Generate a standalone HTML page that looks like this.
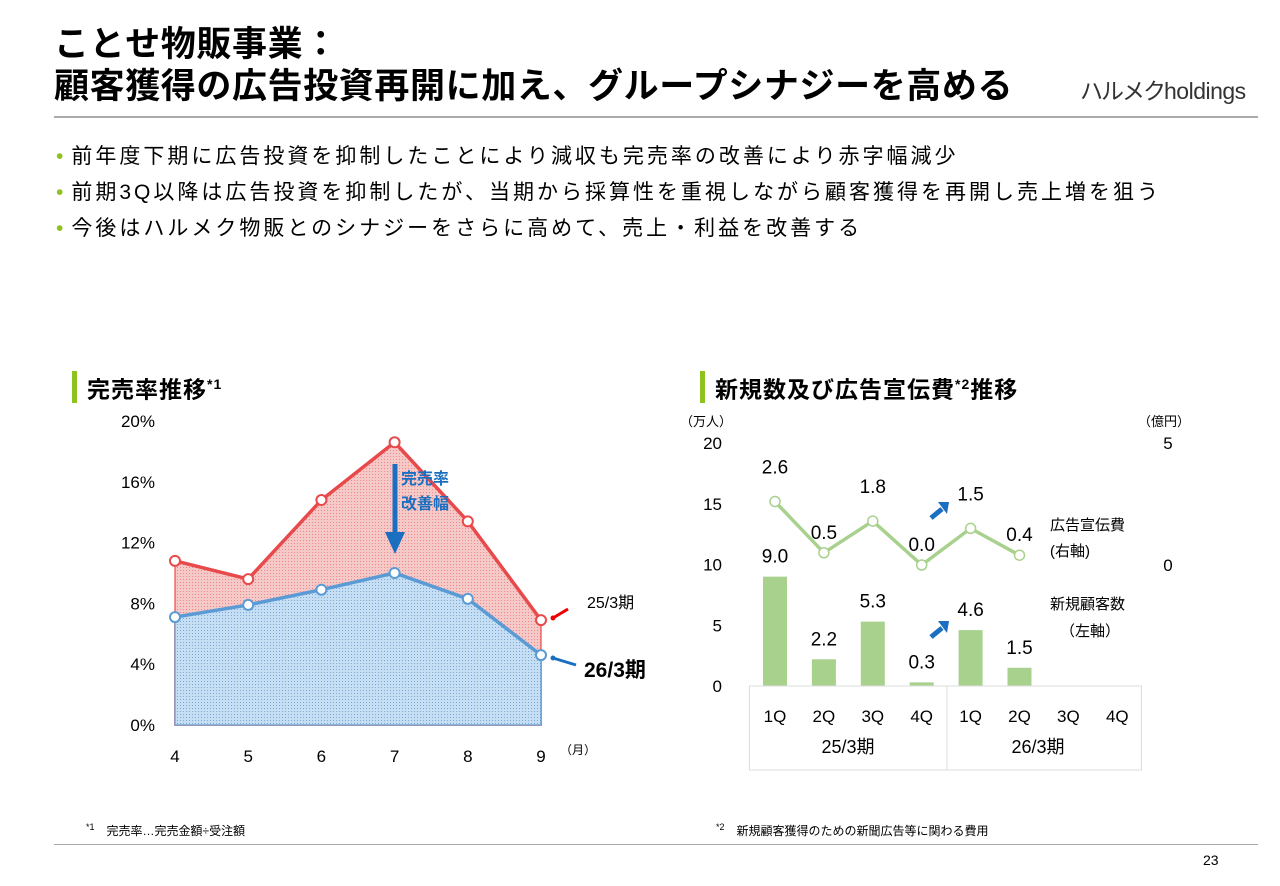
<!DOCTYPE html>
<html><head><meta charset="utf-8"><style>
body{margin:0;width:1280px;height:886px;background:#fff;font-family:"Liberation Sans","Noto Sans CJK JP",sans-serif;color:#000;position:relative;overflow:hidden}
.abs{position:absolute;white-space:nowrap}
h1{position:absolute;left:54px;top:24px;margin:0;font-size:35px;line-height:42px;font-weight:bold;letter-spacing:0.6px}
.bul{left:56px;font-size:21px;letter-spacing:3px}
.bul span{color:#8dc21f;margin-right:8px;letter-spacing:0}
.sec{font-size:23px;font-weight:bold;padding-left:10px;border-left:5px solid #8dc21f;line-height:26px;letter-spacing:1px}
</style></head><body>
<h1>ことせ物販事業：<br>顧客獲得の広告投資再開に加え、グループシナジーを高める</h1>
<div class="abs" style="left:1080px;top:72px;font-size:23px;color:#333;letter-spacing:-0.5px"><span style="letter-spacing:-2px">ハルメク</span>holdings</div>
<div class="abs" style="left:54px;top:116px;width:1204px;height:2px;background:#aaa"></div>
<div class="abs bul" style="top:140px"><span>•</span>前年度下期に広告投資を抑制したことにより減収も完売率の改善により赤字幅減少</div>
<div class="abs bul" style="top:176px"><span>•</span>前期3Q以降は広告投資を抑制したが、当期から採算性を重視しながら顧客獲得を再開し売上増を狙う</div>
<div class="abs bul" style="top:212px"><span>•</span>今後はハルメク物販とのシナジーをさらに高めて、売上・利益を改善する</div>
<div class="abs sec" style="left:72px;top:371px">完売率推移<sup style="font-size:14px">*1</sup></div>
<div class="abs sec" style="left:700px;top:371px">新規数及び広告宣伝費<sup style="font-size:14px">*2</sup>推移</div>
<svg id="c1" class="abs" style="left:0;top:0" width="1280" height="886">
<defs>
<pattern id="pr" width="3" height="3" patternUnits="userSpaceOnUse"><rect width="3" height="3" fill="#f6c9c9"/><rect width="1" height="1" fill="#e88"/></pattern>
<pattern id="pb" width="3" height="3" patternUnits="userSpaceOnUse"><rect width="3" height="3" fill="#c5def3"/><rect width="1" height="1" fill="#7aa9d6"/></pattern>
</defs>
</svg>
<div class="abs" style="left:86px;top:822px;font-size:12px"><sup style="font-size:9px">*1</sup>　完売率…完売金額÷受注額</div>
<div class="abs" style="left:716px;top:822px;font-size:12px"><sup style="font-size:9px">*2</sup>　新規顧客獲得のための新聞広告等に関わる費用</div>
<div class="abs" style="left:54px;top:844px;width:1204px;height:1px;background:#aaa"></div>
<div class="abs" style="left:1203px;top:852px;font-size:14px">23</div>
<script>
const months=['4','5','6','7','8','9'];
const rate25=[10.8,9.6,14.8,18.6,13.4,6.9];
const rate26=[7.1,7.9,8.9,10.0,8.3,4.6];
const rateTicks=[0,4,8,12,16,20];
const quarters=['1Q','2Q','3Q','4Q','1Q','2Q','3Q','4Q'];
const newCustomers=[9.0,2.2,5.3,0.3,4.6,1.5];
const adCost=[2.6,0.5,1.8,0.0,1.5,0.4];
const leftTicks=[0,5,10,15,20];
const rightTicks=[0,5];
const NS='http://www.w3.org/2000/svg';
const svg=document.getElementById('c1');
function mk(tag,attrs,text){const e=document.createElementNS(NS,tag);for(const k in attrs)e.setAttribute(k,attrs[k]);if(text!==undefined)e.textContent=text;svg.appendChild(e);return e;}
// left chart
const lx=i=>175+i*73.2, ly=v=>725-v*15.2;
rateTicks.forEach(t=>{const e=mk('text',{x:155,y:ly(t)+6,'text-anchor':'end','font-size':17},t+'%');

});
months.forEach((m,i)=>{const e=mk('text',{x:lx(i),y:762,'text-anchor':'middle','font-size':17},m);

});
mk('text',{x:560,y:754,'font-size':12},'（月）');
function area(vals,fill,stroke,name){
 let d='M'+lx(0)+','+ly(0);vals.forEach((v,i)=>d+=' L'+lx(i)+','+ly(v));d+=' L'+lx(vals.length-1)+','+ly(0)+'Z';
 const a=mk('path',{d:d,fill:fill,stroke:stroke,'stroke-width':2,'stroke-opacity':0.6});
 
 
 const l=mk('polyline',{points:vals.map((v,i)=>lx(i)+','+ly(v)).join(' '),fill:'none',stroke:stroke,'stroke-width':3.5});
 
 
 vals.forEach((v,i)=>{const c=mk('circle',{cx:lx(i),cy:ly(v),r:5,fill:'#fff',stroke:stroke,'stroke-width':2});
 
 });
}
area(rate25,'url(#pr)','#e8494b','rate-25-3');
area(rate26,'url(#pb)','#5b9bd5','rate-26-3');
mk('line',{x1:395,y1:464,x2:395,y2:535,stroke:'#1a6fc0','stroke-width':5});
mk('polygon',{points:'385,532 405,532 395,554',fill:'#1a6fc0'});
mk('text',{x:401,y:484,'font-size':16,'font-weight':'bold',fill:'#1a6fc0'},'完売率');
mk('text',{x:401,y:509,'font-size':16,'font-weight':'bold',fill:'#1a6fc0'},'改善幅');
mk('line',{x1:568,y1:609,x2:553,y2:618,stroke:'#e00','stroke-width':3});
mk('circle',{cx:553,cy:618,r:2.5,fill:'#e00'});
mk('text',{x:587,y:608,'font-size':16},'25/3期');
mk('line',{x1:576,y1:665,x2:553,y2:658,stroke:'#1a6fc0','stroke-width':3});
mk('circle',{cx:553,cy:658,r:2.5,fill:'#1a6fc0'});
mk('text',{x:584,y:677,'font-size':21,'font-weight':'bold'},'26/3期');
// right chart
const rx=i=>775+i*48.9, yl=v=>686-v*12.15, yr=v=>565-v*24.4;
mk('text',{x:680,y:426,'font-size':13},'（万人）');
mk('text',{x:1138,y:426,'font-size':13},'（億円）');
leftTicks.forEach(t=>{const e=mk('text',{x:722,y:yl(t)+6,'text-anchor':'end','font-size':17},t);

});
rightTicks.forEach(t=>{const e=mk('text',{x:1168,y:yr(t)+6,'text-anchor':'middle','font-size':17},t);

});
newCustomers.forEach((v,i)=>{const b=mk('rect',{x:rx(i)-12,y:yl(v),width:24,height:yl(0)-yl(v),fill:'#a9d18e'});


const t=mk('text',{x:rx(i),y:yl(v)-14,'text-anchor':'middle','font-size':19},v.toFixed(1));

});
const pl=mk('polyline',{points:adCost.map((v,i)=>rx(i)+','+yr(v)).join(' '),fill:'none',stroke:'#a9d18e','stroke-width':3.5});


adCost.forEach((v,i)=>{const c=mk('circle',{cx:rx(i),cy:yr(v),r:5,fill:'#fff',stroke:'#a9d18e','stroke-width':1.5});


const t=mk('text',{x:rx(i),y:yr(v)-(i%2?14:28),'text-anchor':'middle','font-size':19},v.toFixed(1));

});
mk('rect',{x:749.5,y:686,width:392,height:84,fill:'none',stroke:'#ddd'});
mk('line',{x1:947,y1:686,x2:947,y2:770,stroke:'#ddd'});
quarters.forEach((q,i)=>{const e=mk('text',{x:rx(i),y:722,'text-anchor':'middle','font-size':17},q);

});
mk('text',{x:848,y:753,'text-anchor':'middle','font-size':18},'25/3期');
mk('text',{x:1038,y:753,'text-anchor':'middle','font-size':18},'26/3期');
[[931,518],[931,637]].forEach(p=>{mk('line',{x1:p[0],y1:p[1],x2:p[0]+11,y2:p[1]-9,stroke:'#1a6fc0','stroke-width':5});
mk('polygon',{points:(p[0]+7)+','+(p[1]-16)+' '+(p[0]+18)+','+(p[1]-16)+' '+(p[0]+16)+','+(p[1]-4),fill:'#1a6fc0'});});
mk('text',{x:1050,y:530,'font-size':15},'広告宣伝費');
mk('text',{x:1050,y:556,'font-size':15},'(右軸)');
mk('text',{x:1050,y:609,'font-size':15},'新規顧客数');
mk('text',{x:1060,y:636,'font-size':15},'（左軸）');
</script>
</body></html>
